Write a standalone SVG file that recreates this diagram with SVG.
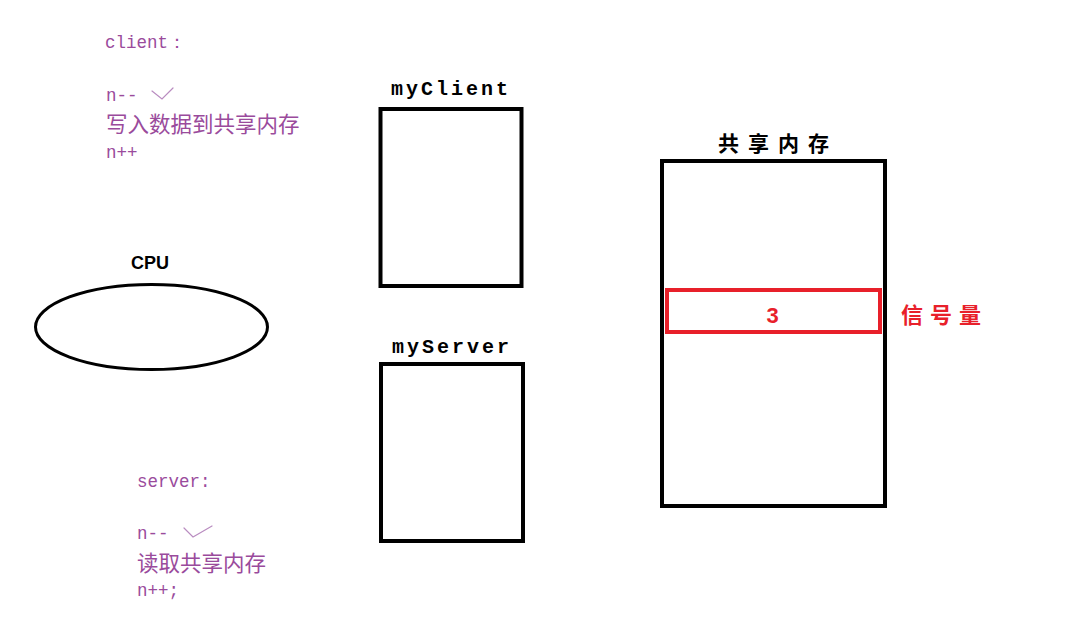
<svg xmlns="http://www.w3.org/2000/svg" width="1072" height="639" viewBox="0 0 1072 639">
<style>
.box{fill:none;stroke:#000;stroke-width:4}
.note{fill:#9a4b9c;font-family:"Liberation Mono",monospace;font-size:17.5px}
.cjk{fill:#9a4b9c;font-family:"Noto Sans CJK SC",sans-serif;font-size:21.5px}
.lbl{fill:#000;font-family:"Liberation Mono",monospace;font-weight:bold;font-size:20px;letter-spacing:3px}
.tick{fill:none;stroke:#b98cc0;stroke-width:1.2;stroke-linecap:round}
</style>
<rect width="1072" height="639" fill="#fff"/>
<g id="client-note">
<text class="note" x="105" y="48">client：</text>
<text class="note" x="106" y="101">n--</text>
<polyline class="tick" points="152,91 162,99 173,88"/>
<text class="cjk" x="106" y="132">写入数据到共享内存</text>
<text class="note" x="106" y="158">n++</text>
</g>
<g id="cpu">
<text x="150" y="269" text-anchor="middle" font-family="Liberation Sans,sans-serif" font-weight="bold" font-size="18">CPU</text>
<ellipse cx="151.5" cy="327" rx="116" ry="42.5" fill="none" stroke="#000" stroke-width="3"/>
</g>
<g id="myClient">
<text class="lbl" x="391" y="95">myClient</text>
<rect class="box" x="380.5" y="109" width="141" height="177"/>
</g>
<g id="myServer">
<text class="lbl" x="392" y="353">myServer</text>
<rect class="box" x="381" y="364" width="142" height="177"/>
</g>
<g id="server-note">
<text class="note" x="137" y="487">server:</text>
<text class="note" x="137" y="539">n--</text>
<polyline class="tick" points="184,528 193,537 212,526"/>
<text class="cjk" x="137" y="571">读取共享内存</text>
<text class="note" x="137" y="596">n++;</text>
</g>
<g id="shared-memory">
<text x="718" y="151" font-family="Noto Sans CJK SC,sans-serif" font-weight="bold" font-size="21" letter-spacing="9">共享内存</text>
<rect class="box" x="662" y="161" width="223" height="345"/>
</g>
<g id="semaphore">
<rect x="667" y="290" width="213" height="42" fill="none" stroke="#e8202a" stroke-width="4"/>
<text x="772.5" y="323" text-anchor="middle" fill="#e8202a" font-family="Liberation Sans,sans-serif" font-weight="bold" font-size="22">3</text>
<text x="901" y="323" fill="#e8202a" font-family="Noto Sans CJK SC,sans-serif" font-weight="bold" font-size="22" letter-spacing="7">信号量</text>
</g>
<g id="connectors"/>
</svg>
